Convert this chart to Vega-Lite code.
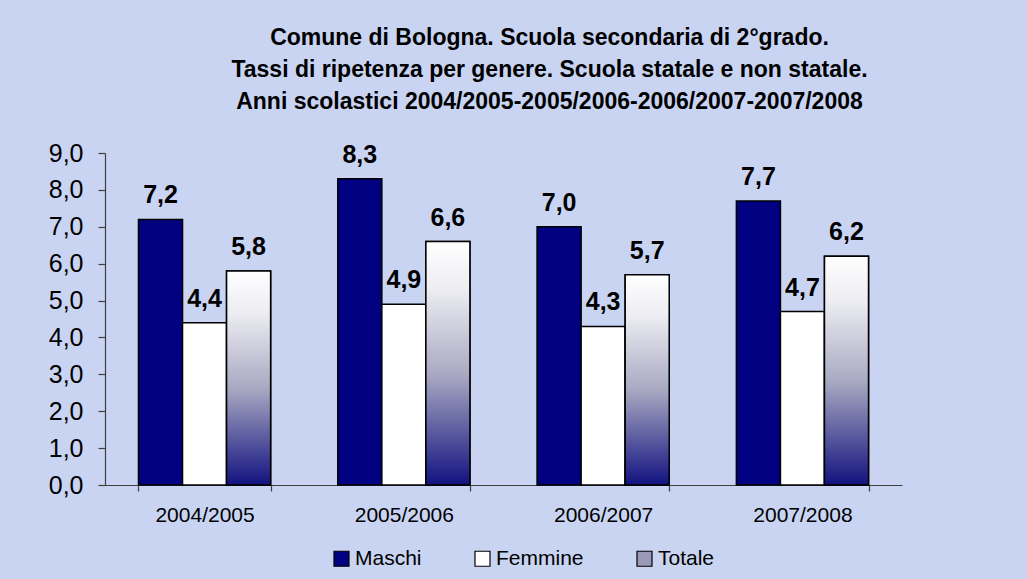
{
  "$schema": "https://vega.github.io/schema/vega-lite/v6.json",
  "autosize": "none",
  "width": 797,
  "height": 332,
  "padding": {"left": 105, "top": 153, "right": 125, "bottom": 94},
  "background": "#c9d4f2",
  "config": {
    "locale": {"number": {"decimal": ",", "thousands": ".", "grouping": [3], "currency": ["", " €"]}},
    "view": {"stroke": null},
    "font": "Liberation Sans"
  },
  "title": {
    "text": ["Comune di Bologna. Scuola secondaria di 2°grado.", "Tassi di ripetenza per genere. Scuola statale e non statale.", "Anni scolastici 2004/2005-2005/2006-2006/2007-2007/2008"],
    "font": "Liberation Sans",
    "fontSize": 23,
    "fontWeight": "bold",
    "lineHeight": 32,
    "color": "#000000",
    "anchor": "middle",
    "dx": 46,
    "offset": 27
  },
  "data": {
    "values": [
      {"anno": "2004/2005", "serie": "Maschi", "valore": 7.2},
      {"anno": "2004/2005", "serie": "Femmine", "valore": 4.4},
      {"anno": "2004/2005", "serie": "Totale", "valore": 5.8},
      {"anno": "2005/2006", "serie": "Maschi", "valore": 8.3},
      {"anno": "2005/2006", "serie": "Femmine", "valore": 4.9},
      {"anno": "2005/2006", "serie": "Totale", "valore": 6.6},
      {"anno": "2006/2007", "serie": "Maschi", "valore": 7.0},
      {"anno": "2006/2007", "serie": "Femmine", "valore": 4.3},
      {"anno": "2006/2007", "serie": "Totale", "valore": 5.7},
      {"anno": "2007/2008", "serie": "Maschi", "valore": 7.7},
      {"anno": "2007/2008", "serie": "Femmine", "valore": 4.7},
      {"anno": "2007/2008", "serie": "Totale", "valore": 6.2}
    ]
  },
  "encoding": {
    "x": {
      "field": "anno",
      "type": "nominal",
      "sort": null,
      "title": null,
      "scale": {"paddingInner": 0.337, "paddingOuter": 0.168},
      "axis": {
        "labelAngle": 0,
        "labelFontSize": 21,
        "labelColor": "#000000",
        "labelPadding": 13,
        "tickBand": "extent",
        "tickSize": 6,
        "domainColor": "#404040",
        "tickColor": "#404040",
        "domainWidth": 1.2,
        "tickWidth": 1.2
      }
    },
    "xOffset": {
      "field": "serie",
      "type": "nominal",
      "scale": {"domain": ["Maschi", "Femmine", "Totale"], "paddingInner": 0, "paddingOuter": 0}
    },
    "y": {
      "field": "valore",
      "type": "quantitative",
      "title": null,
      "scale": {"domain": [0, 9], "nice": false},
      "axis": {
        "values": [0, 1, 2, 3, 4, 5, 6, 7, 8, 9],
        "format": ".1f",
        "grid": false,
        "labelFontSize": 25,
        "labelColor": "#000000",
        "labelPadding": 15,
        "tickSize": 7,
        "domainColor": "#404040",
        "tickColor": "#404040",
        "domainWidth": 1.2,
        "tickWidth": 1.2
      }
    }
  },
  "layer": [
    {
      "mark": {"type": "bar", "stroke": "#000000", "strokeWidth": 1.5},
      "encoding": {
        "color": {
          "field": "serie",
          "type": "nominal",
          "scale": {"domain": ["Maschi", "Femmine", "Totale"], "range": ["#000080", "#ffffff", "#9a9ab8"]},
          "legend": {
            "title": null,
            "orient": "none",
            "direction": "horizontal",
            "legendX": 226,
            "legendY": 395,
            "symbolType": "square",
            "symbolSize": 225,
            "symbolStrokeColor": "#000000",
            "symbolStrokeWidth": 1.2,
            "symbolOpacity": 1,
            "labelFontSize": 21,
            "labelColor": "#000000",
            "labelOffset": 3,
            "columnPadding": 50
          }
        }
      }
    },
    {
      "transform": [{"filter": "datum.serie === 'Totale'"}],
      "mark": {"type": "bar", "stroke": "#000000", "strokeWidth": 1.5},
      "encoding": {
        "color": {
          "value": {
            "gradient": "linear",
            "x1": 0, "y1": 0, "x2": 0, "y2": 1,
            "stops": [
              {"offset": 0, "color": "#ffffff"},
              {"offset": 0.2, "color": "#ececf2"},
              {"offset": 0.55, "color": "#a8a8c2"},
              {"offset": 1, "color": "#121280"}
            ]
          }
        }
      }
    },
    {
      "mark": {"type": "text", "fontSize": 25, "fontWeight": "bold", "baseline": "alphabetic", "dy": -16, "color": "#000000"},
      "encoding": {
        "text": {"field": "valore", "type": "quantitative", "format": ".1f"}
      }
    }
  ]
}
